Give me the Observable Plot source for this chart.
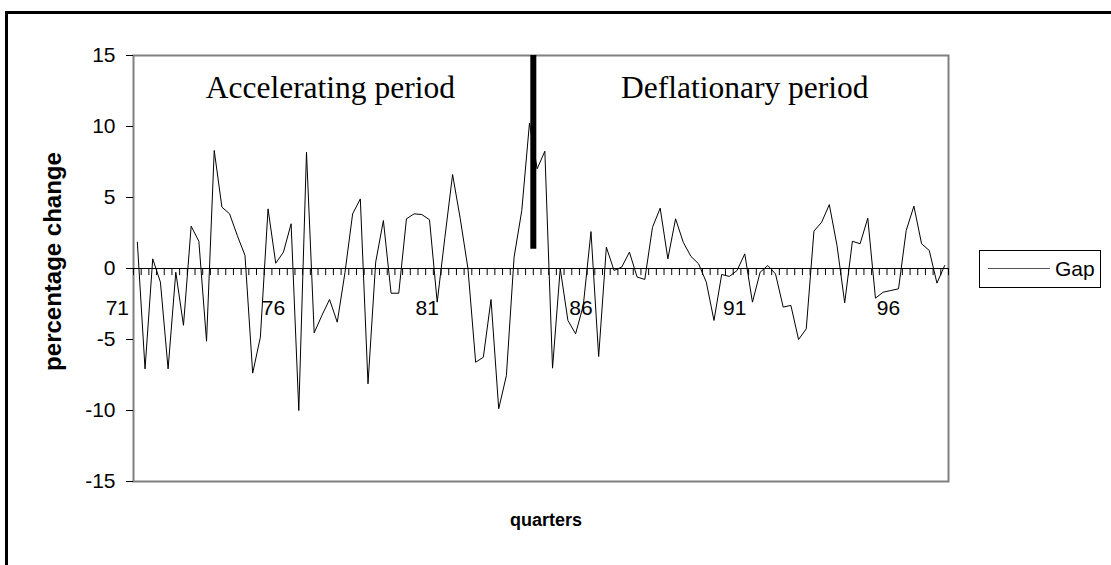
<!DOCTYPE html>
<html>
<head>
<meta charset="utf-8">
<script src="https://cdn.jsdelivr.net/npm/d3@7"></script>
<script src="https://cdn.jsdelivr.net/npm/@observablehq/plot@0.6"></script>
<style>
  html, body { margin: 0; padding: 0; background: #fff; overflow: hidden; }
  #wrap { position: relative; width: 1111px; height: 565px; overflow: hidden; }
  #border { position: absolute; left: 5px; top: 11px; width: 1300px; height: 800px; border: 3px solid #000; box-sizing: border-box; pointer-events: none; }
  #legend { position: absolute; left: 979px; top: 250px; width: 122px; height: 38px; border: 1px solid #000; box-sizing: border-box; background: #fff;
    font-family: Arial, "Liberation Sans", sans-serif; font-size: 21px; line-height: 1; }
  #legend .ln { position: absolute; left: 8px; top: 17px; width: 62px; height: 0; border-top: 1px solid #555; }
  #legend .tx { position: absolute; left: 75px; top: 7px; }
</style>
</head>
<body>
<div id="wrap">
  <div id="chart"></div>
  <div id="border"></div>
  <div id="legend"><div class="ln"></div><div class="tx">Gap</div></div>
</div>
<script>
// Quarterly "Gap" series (percentage change), 106 quarters
const gap = [
  1.85, -7.07, 0.68, -0.96, -7.07, -0.26, -4.0, 2.98, 1.92, -5.12,
  8.31, 4.32, 3.85, 2.32, 0.92, -7.37, -4.84, 4.2, 0.37, 1.15,
  3.15, -10.0, 8.19, -4.53, -3.31, -2.18, -3.78, -0.3, 3.85, 4.9,
  -8.12, 0.45, 3.38, -1.74, -1.74, 3.5, 3.85, 3.8, 3.43, -2.37,
  2.2, 6.62, 3.5, 0.0, -6.6, -6.25, -2.18, -9.88, -7.54, 0.8,
  4.08, 10.23, 7.02, 8.26, -7.02, 0.0, -3.66, -4.6, -2.6, 2.6,
  -6.2, 1.5, -0.14, 0.1, 1.15, -0.6, -0.77, 2.9, 4.25, 0.68,
  3.5, 1.85, 0.85, 0.33, -0.96, -3.66, -0.42, -0.56, -0.14, 1.03,
  -2.37, -0.26, 0.21, -0.38, -2.72, -2.6, -5.0, -4.25, 2.63, 3.26,
  4.5, 1.62, -2.42, 1.92, 1.74, 3.54, -2.09, -1.67, -1.55, -1.43,
  2.68, 4.39, 1.74, 1.27, -1.03, 0.21
];
const xTickLabels = ["71", "76", "81", "86", "91", "96"];
const xTickPositions = [-2.1, 18.2, 38.2, 58.2, 78.2, 98.2];
const yTicks = [-15, -10, -5, 0, 5, 10, 15];
const periodLabels = ["Accelerating period", "Deflationary period"];
const periodX = [25.6, 79.5];
const periodY = [12.7, 12.7];
const breakX = [52];
const breakBottom = 1.35;

const n = gap.length;
const data = gap.map((v, i) => ({i: i + 0.5, v}));
const boundaries = d3.range(0, n + 1);

const sans = "Arial, 'Liberation Sans', sans-serif";
const serif = "'Times New Roman', 'Liberation Serif', serif";

const chart = Plot.plot({
  width: 1111,
  height: 565,
  marginLeft: 133,
  marginRight: 163,
  marginTop: 55,
  marginBottom: 84,
  style: {fontFamily: sans, fontSize: "21px", background: "transparent", overflow: "visible"},
  x: {domain: [0, n], axis: null},
  y: {domain: [-15, 15]},
  marks: [
    Plot.frame({stroke: "#808080", strokeWidth: 2}),
    Plot.axisY({ticks: yTicks, tickSize: 7, tickPadding: 11, fontSize: 21, label: null, stroke: "#000", tickFormat: d => String(d)}),
    Plot.ruleY([0], {stroke: "#000", strokeWidth: 1}),
    Plot.ruleX(boundaries, {x: d => d, y1: 0, y2: -0.5, stroke: "#000", strokeWidth: 1}),
    Plot.text(xTickLabels, {x: (d, i) => xTickPositions[i], y: 0, dy: 40, text: d => d, fontSize: 21, fill: "#000"}),
    Plot.line(data, {x: "i", y: "v", stroke: "#000", strokeWidth: 1}),
    Plot.ruleX(breakX, {x: d => d, y1: breakBottom, y2: 15, stroke: "#000", strokeWidth: 6}),
    Plot.text(periodLabels, {x: (d, i) => periodX[i], y: (d, i) => periodY[i], text: d => d, fontFamily: serif, fontSize: 31.5, fill: "#000"}),
    Plot.text(["percentage change"], {frameAnchor: "left", textAnchor: "middle", dx: -80, dy: -7, rotate: -90, fontWeight: "bold", fontSize: 24, fill: "#000"}),
    Plot.text(["quarters"], {frameAnchor: "bottom", dy: 44, dx: 5, fontWeight: "bold", fontSize: 18, fill: "#000"})
  ]
});
document.getElementById("chart").appendChild(chart);
</script>
</body>
</html>
